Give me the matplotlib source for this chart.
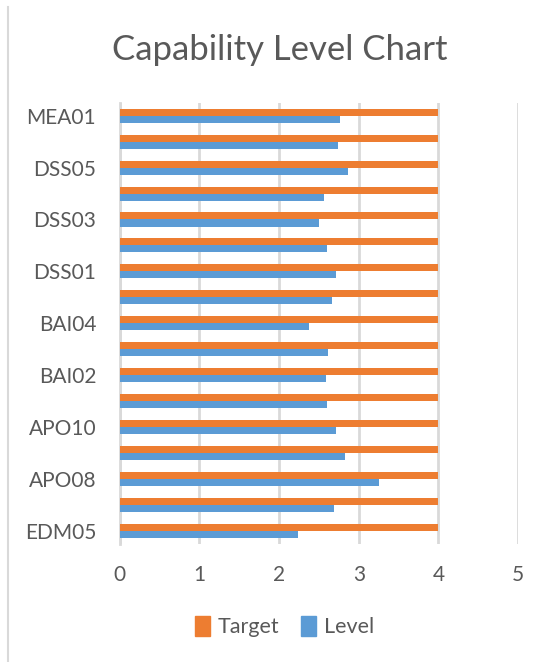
import numpy as np
import matplotlib.pyplot as plt
from matplotlib.lines import Line2D
from matplotlib.patches import Patch

plt.rcParams["font.family"] = ["Lato", "DejaVu Sans"]

# Data (bottom to top, as drawn)
processes = ["EDM05", "APO07", "APO08", "APO09", "APO10", "BAI01", "BAI02", "BAI03",
             "BAI04", "BAI06", "DSS01", "DSS02", "DSS03", "DSS04", "DSS05", "DSS06", "MEA01"]
level = [2.24, 2.69, 3.25, 2.83, 2.71, 2.60, 2.59, 2.62,
         2.37, 2.67, 2.71, 2.60, 2.50, 2.57, 2.87, 2.74, 2.76]
target = [4] * len(processes)

text_col = "#595959"
orange = "#ED7D31"
blue = "#5B9BD5"

fig = plt.figure(figsize=(5.47, 6.62), dpi=100)
ax = fig.add_axes([0.219, 0.178, 0.728, 0.667])

y = np.arange(len(processes))
h = 0.27
ax.barh(y + h / 2, target, height=h, color=orange, zorder=3)
ax.barh(y - h / 2, level, height=h, color=blue, zorder=3)

ax.set_xlim(0, 5)
ax.set_ylim(-0.5, len(processes) - 0.5)
ax.set_xticks(range(6))
ax.set_yticks(y[::2])
ax.set_yticklabels(processes[::2])
ax.tick_params(axis="both", length=0, labelsize=15, labelcolor=text_col)
ax.tick_params(axis="y", pad=17)
ax.tick_params(axis="x", pad=15)
ax.grid(axis="x", color="#D9D9D9", linewidth=2, zorder=0)
for s in ["top", "right", "bottom"]:
    ax.spines[s].set_visible(False)
ax.spines["left"].set_color("#D9D9D9")
ax.spines["left"].set_linewidth(2)

fig.text(0.512, 0.924, "Capability Level Chart", fontsize=25, color=text_col,
         ha="center", va="center")

handles = [Patch(color=orange, label="Target"), Patch(color=blue, label="Level")]
fig.legend(handles=handles, loc="center", bbox_to_anchor=(0.52, 0.053), ncol=2,
           frameon=False, fontsize=15.5, labelcolor=text_col, handlelength=0.7,
           handleheight=1.0, handletextpad=0.35, columnspacing=1.0)

# chart-area border on the left
fig.add_artist(Line2D([0.015, 0.015], [0, 0.99], color="#D9D9D9", linewidth=1.5))

fig.savefig("out.png", dpi=100)
